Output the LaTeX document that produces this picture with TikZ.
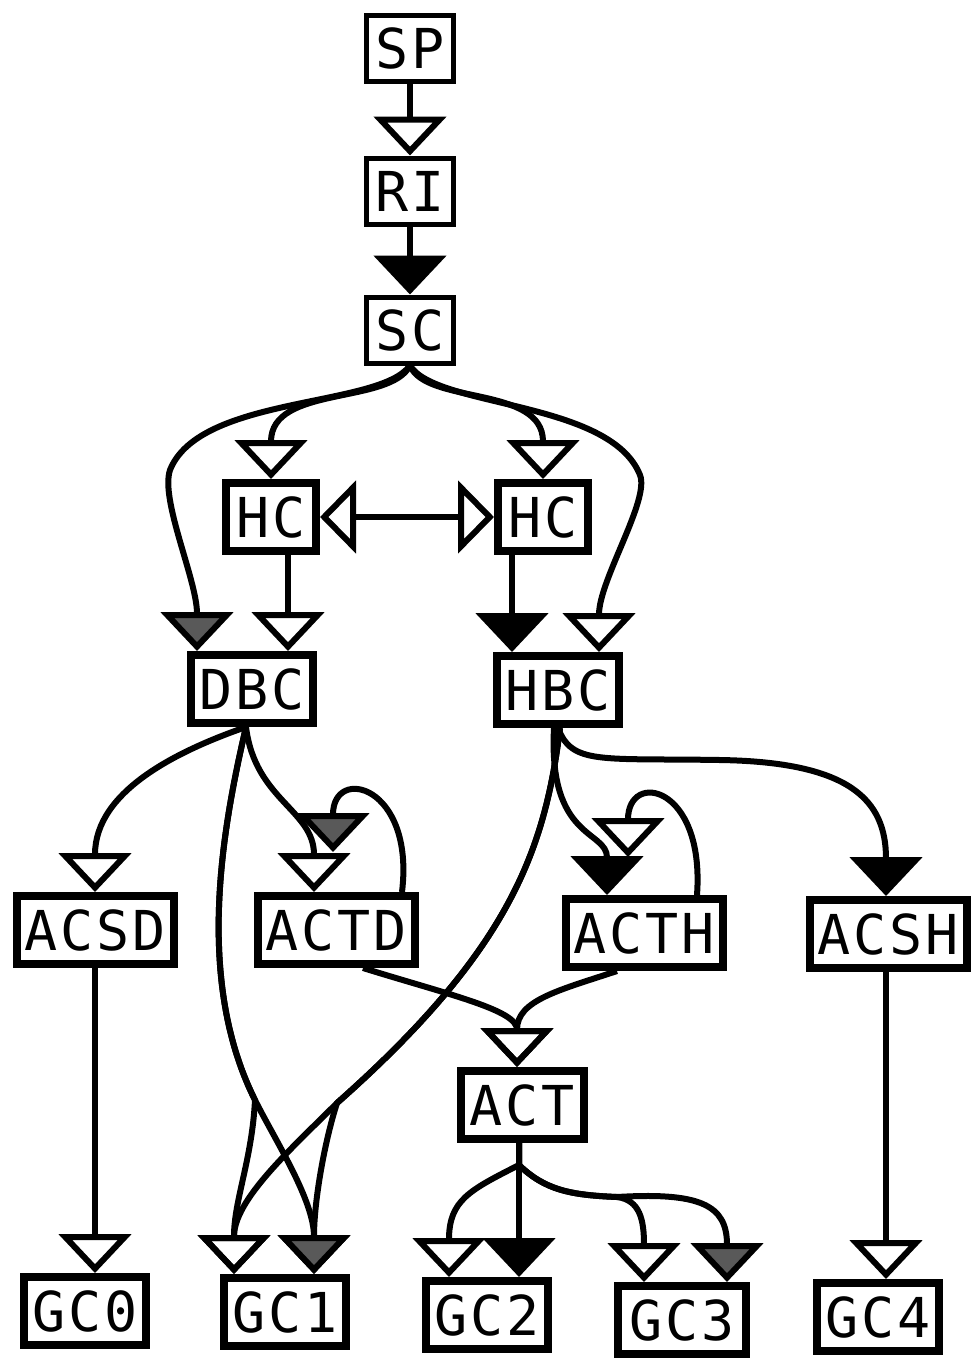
\documentclass[tikz,border=0pt]{standalone}
\usepackage{fontspec}
\newfontfamily\boxfont[LetterSpace=5]{DejaVu Sans Mono}
\usetikzlibrary{arrows.meta}

\begin{document}
\begin{tikzpicture}[x=1pt, y=1pt, line width=6pt,
  box/.style={draw, line width=8pt, inner sep=0pt, minimum width=#1, minimum height=68pt,
    font=\boxfont\fontsize{55}{55}\selectfont},
  topbox/.style={box=87pt, line width=5pt, minimum height=66pt},
  openhead/.style={-{Triangle[open, length=39pt, width=72pt]}},
  blackhead/.style={-{Triangle[length=39pt, width=72pt]}},
  grayhead/.style={-{Triangle[length=39pt, width=72pt, fill=black!65]}},
  bothopen/.style={{Triangle[open, length=36pt, width=72pt]}-{Triangle[open, length=36pt, width=72pt]}}]
\useasboundingbox (0,0) rectangle (975,-1369);
% boxes
\node[topbox] (sp) at (410,-48) {SP};
\node[topbox] (ri) at (410,-191) {RI};
\node[topbox] (sc) at (410,-330) {SC};
\node[box=90pt] (hcl) at (271,-517) {HC};
\node[box=90pt] (hcr) at (543,-517) {HC};
\node[box=122pt] (dbc) at (252,-689) {DBC};
\node[box=122pt] (hbc) at (558,-690) {HBC};
\node[box=157pt] (acsd) at (95,-930) {ACSD};
\node[box=157pt] (actd) at (336,-930) {ACTD};
\node[box=157pt] (acth) at (644,-933) {ACTH};
\node[box=157pt] (acsh) at (888,-934) {ACSH};
\node[box=123pt] (act) at (522,-1105) {ACT};
\node[box=122pt] (gc0) at (85,-1311) {GC0};
\node[box=122pt] (gc1) at (285,-1312) {GC1};
\node[box=122pt] (gc2) at (487,-1315) {GC2};
\node[box=128pt] (gc3) at (682,-1320) {GC3};
\node[box=122pt] (gc4) at (878,-1317) {GC4};
% top chain
\draw[openhead] (sp.south) -- (ri.north);
\draw[blackhead] (ri.south) -- (sc.north);
% SC fan
\draw[openhead] (sc.south) .. controls (390,-405) and (271,-385) .. (hcl.north);
\draw[openhead] (sc.south) .. controls (426,-405) and (543,-385) .. (hcr.north);
\draw[grayhead] (sc.south) .. controls (380,-408) and (200,-395) .. (170,-470)
  .. controls (160,-500) and (197,-580) .. ([xshift=-55pt]dbc.north);
\draw[openhead] (sc.south) .. controls (436,-408) and (610,-400) .. (640,-475)
  .. controls (650,-500) and (599,-580) .. ([xshift=41pt]hbc.north);
\draw[bothopen] (hcl.east) -- (hcr.west);
\draw[openhead] ([xshift=17pt]hcl.south) -- ([xshift=36pt]dbc.north);
\draw[blackhead] ([xshift=-31pt]hcr.south) -- ([xshift=-46pt]hbc.north);
% DBC outputs
\draw[openhead] ([xshift=-6pt]dbc.south) .. controls (180,-750) and (95,-790) .. (acsd.north);
\draw[openhead] ([xshift=-6pt]dbc.south) .. controls (255,-800) and (314,-810) .. ([xshift=-22pt]actd.north);
\draw[grayhead] ([xshift=66pt]actd.north) .. controls (415,-785) and (333,-765) .. ([xshift=-3pt,yshift=40pt]actd.north);
\draw[grayhead] ([xshift=-6pt]dbc.south) .. controls (222,-830) and (195,-980) .. (255,-1100)
  .. controls (275,-1140) and (314,-1200) .. ([xshift=29pt]gc1.north);
\draw[openhead] ([xshift=-6pt]dbc.south) .. controls (222,-830) and (195,-980) .. (255,-1100)
  .. controls (252,-1160) and (234,-1200) .. ([xshift=-51pt]gc1.north);
% HBC outputs
\draw[blackhead] ([xshift=-4pt]hbc.south) .. controls (548,-840) and (607,-830) .. ([xshift=-37pt]acth.north);
\draw[openhead] ([xshift=53pt]acth.north) .. controls (705,-785) and (628,-770) .. ([xshift=-16pt,yshift=38pt]acth.north);
\draw[blackhead] (hbc.south) .. controls (572,-765) and (600,-758) .. (720,-760)
  .. controls (850,-762) and (886,-800) .. ([xshift=-2pt]acsh.north);
\draw[openhead] ([xshift=2pt]hbc.south) .. controls (545,-850) and (510,-950) .. (337,-1103)
  .. controls (290,-1150) and (234,-1200) .. ([xshift=-51pt]gc1.north);
\draw[grayhead] ([xshift=2pt]hbc.south) .. controls (545,-850) and (510,-950) .. (337,-1103)
  .. controls (325,-1140) and (314,-1200) .. ([xshift=29pt]gc1.north);
% into ACT
\draw[openhead] ([xshift=27pt]actd.south) .. controls (450,-995) and (517,-1010) .. ([xshift=-5pt]act.north);
\draw[openhead] ([xshift=-27pt]acth.south) .. controls (560,-990) and (517,-1000) .. ([xshift=-5pt]act.north);
% ACT outputs
\draw[openhead] ([xshift=-3pt]act.south) -- ++(0,-22) .. controls (470,-1190) and (449,-1200) .. ([xshift=-38pt]gc2.north);
\draw[blackhead] ([xshift=-3pt]act.south) -- ([xshift=32pt]gc2.north);
\draw[openhead] ([xshift=-3pt]act.south) -- ++(0,-22) .. controls (545,-1190) and (570,-1195) .. (617,-1197)
  .. controls (640,-1200) and (644,-1220) .. ([xshift=-38pt]gc3.north);
\draw[grayhead] ([xshift=-3pt]act.south) -- ++(0,-22) .. controls (545,-1190) and (570,-1195) .. (617,-1197)
  .. controls (700,-1192) and (727,-1205) .. ([xshift=45pt]gc3.north);
% side columns
\draw[openhead] (acsd.south) -- ([xshift=10pt]gc0.north);
\draw[openhead] ([xshift=-2pt]acsh.south) -- ([xshift=8pt]gc4.north);
\end{tikzpicture}
\end{document}
